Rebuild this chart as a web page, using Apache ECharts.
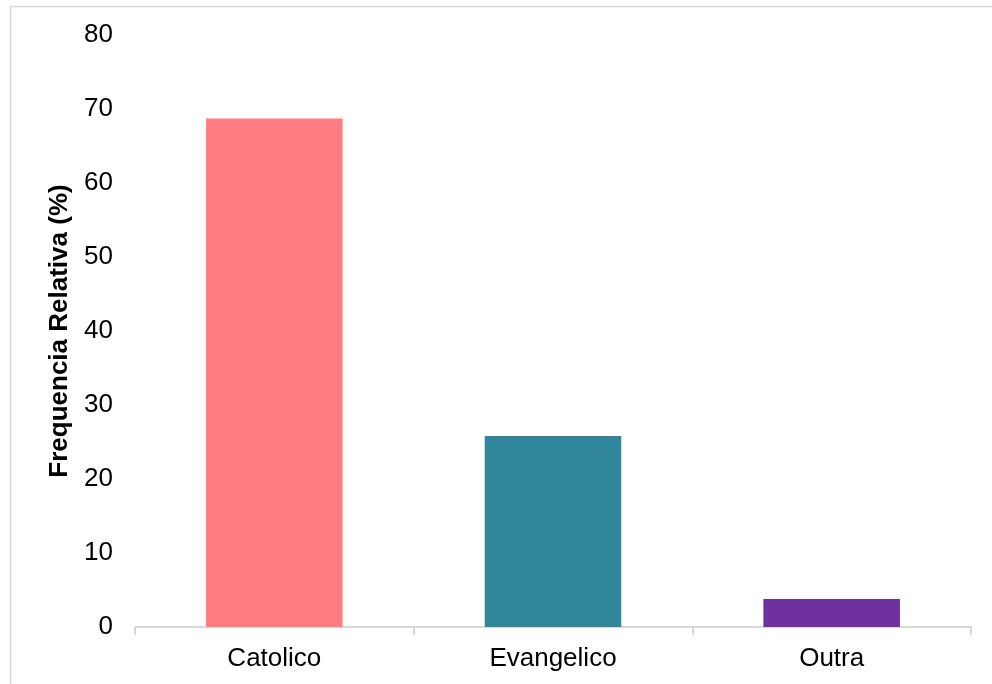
<!DOCTYPE html>
<html>
<head>
<meta charset="utf-8">
<script src="https://cdn.jsdelivr.net/npm/echarts@6/dist/echarts.min.js"></script>
<style>
  html, body { margin: 0; padding: 0; background: #fff; }
  #chart { width: 992px; height: 684px; }
</style>
</head>
<body>
<div id="chart"></div>
<script>
// Religião declarada — frequência relativa por categoria
const categories = ['Catolico', 'Evangelico', 'Outra'];
const values = [68.7, 25.8, 3.8];
const barColors = ['#FF7C80', '#31869B', '#7030A0'];
const yTicks = [0, 10, 20, 30, 40, 50, 60, 70, 80];

const chart = echarts.init(document.getElementById('chart'), null, { renderer: 'canvas' });

chart.setOption({
  animation: false,
  backgroundColor: '#ffffff',
  textStyle: { fontFamily: 'Liberation Sans, Arial, sans-serif' },
  graphic: [
    // outer chart frame (top and left edges)
    { type: 'line', shape: { x1: 10, y1: 6.5, x2: 992, y2: 6.5 }, style: { stroke: '#d9d9d9', lineWidth: 1.5 } },
    { type: 'line', shape: { x1: 10.5, y1: 6, x2: 10.5, y2: 684 }, style: { stroke: '#d9d9d9', lineWidth: 1.5 } }
  ],
  grid: { left: 135, right: 21, top: 35, bottom: 57, containLabel: false },
  xAxis: {
    type: 'category',
    data: categories,
    axisLine: { lineStyle: { color: '#d9d9d9', width: 2 } },
    axisTick: { show: true, length: 8, lineStyle: { color: '#d9d9d9', width: 2 } },
    axisLabel: { color: '#000', fontSize: 26, margin: 19 }
  },
  yAxis: {
    type: 'value',
    min: 0,
    max: 80,
    interval: 10,
    name: 'Frequencia Relativa (%)',
    nameLocation: 'middle',
    nameGap: 62,
    nameTextStyle: { color: '#000', fontSize: 26, fontWeight: 'bold' },
    axisLine: { show: false },
    axisTick: { show: false },
    splitLine: { show: false },
    axisLabel: {
      color: '#000',
      fontSize: 26,
      margin: 22,
      formatter: v => (yTicks.indexOf(v) >= 0 ? String(v) : '')
    }
  },
  series: [{
    type: 'bar',
    barWidth: '49%',
    data: values.map((v, i) => ({ value: v, itemStyle: { color: barColors[i] } }))
  }]
});
</script>
</body>
</html>
